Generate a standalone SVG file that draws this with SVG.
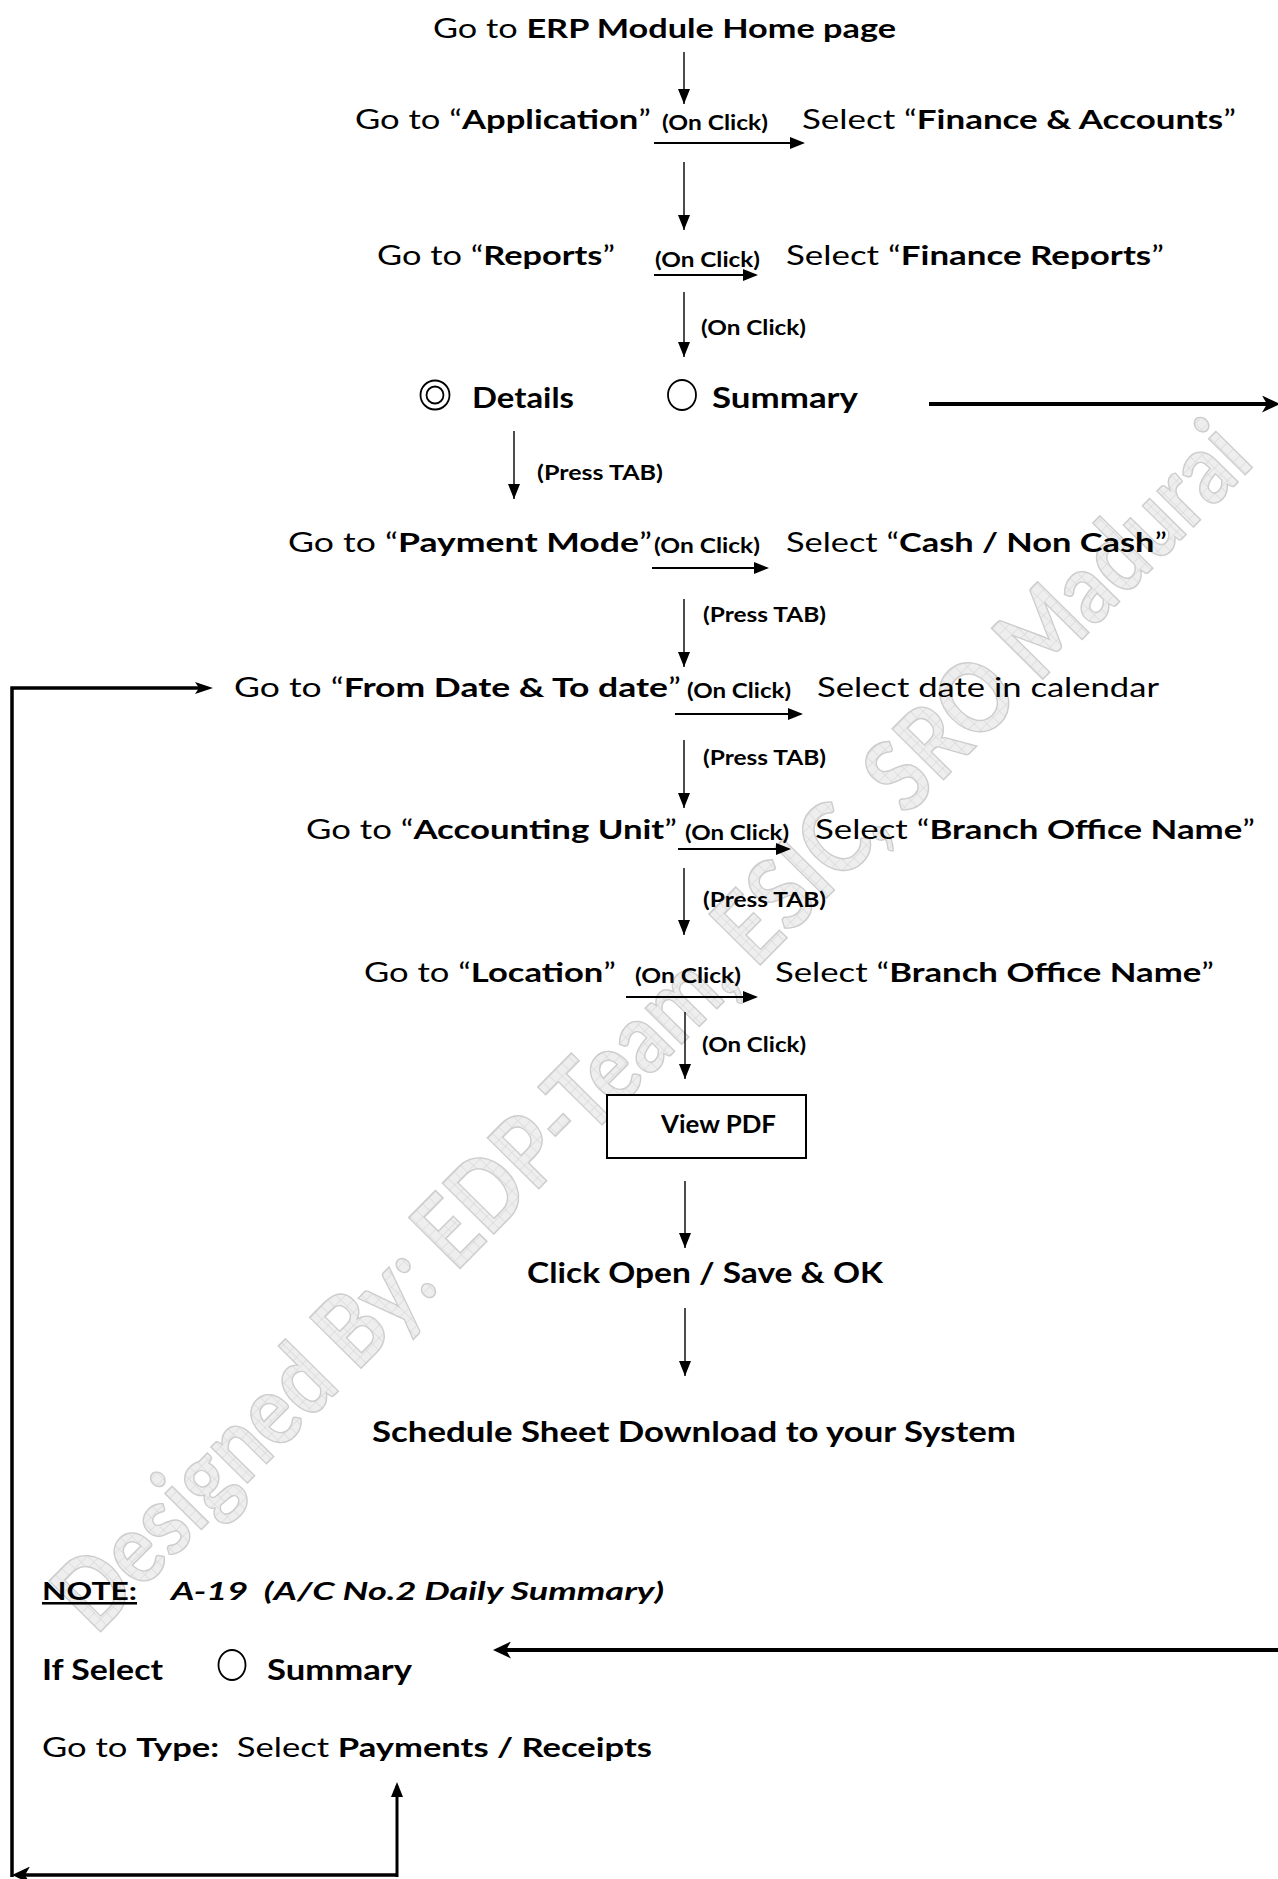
<svg xmlns="http://www.w3.org/2000/svg" width="1278" height="1879" viewBox="0 0 1278 1879">
<style>
  text{font-family:Lato,"Open Sans","Liberation Sans",sans-serif;fill:#000}
  .m{font-size:27px}
  .b{font-weight:bold}
  .s{font-size:20px;font-weight:bold}
  .big{font-size:29px;font-weight:bold}
  .thin{stroke:#000;stroke-width:1.4;fill:none}
  .mid{stroke:#000;stroke-width:2.2;fill:none}
  .thick{stroke:#000;stroke-width:4;fill:none}
  .loop{stroke:#000;stroke-width:3.5;fill:none}
  .radio{fill:none;stroke:#000;stroke-width:1.8}
  .wm{font-size:100px;font-weight:bold;fill:url(#grid);stroke:#cdcdcd;stroke-width:1.5}
</style>
<defs>
  <pattern id="grid" width="9" height="9" patternUnits="userSpaceOnUse">
    <rect width="9" height="9" fill="#eeeeee"/>
    <path d="M0,0H9M0,0V9" stroke="#d2d2d2" stroke-width="1"/>
  </pattern>
  <marker id="ah" markerUnits="userSpaceOnUse" markerWidth="15" markerHeight="12" refX="15" refY="6" orient="auto">
    <path d="M0,0L15,6L0,12z" fill="#000"/>
  </marker>
  <marker id="ahH" markerUnits="userSpaceOnUse" markerWidth="15" markerHeight="12" refX="13" refY="6" orient="auto">
    <path d="M0,0L15,6L0,12z" fill="#000"/>
  </marker>
  <marker id="ahM" markerUnits="userSpaceOnUse" markerWidth="15" markerHeight="12" refX="11" refY="6" orient="auto">
    <path d="M0,0L15,6L0,12z" fill="#000"/>
  </marker>
  <marker id="ahL" markerUnits="userSpaceOnUse" markerWidth="18" markerHeight="12" refX="8" refY="6" orient="auto">
    <path d="M0,0L18,6L0,12L4,6z" fill="#000"/>
  </marker>
  <marker id="ahS" markerUnits="userSpaceOnUse" markerWidth="18" markerHeight="17" refX="6" refY="8.5" orient="auto">
    <path d="M0,0L18,8.5L0,17L5,8.5z" fill="#000"/>
  </marker>
</defs>
<rect width="1278" height="1879" fill="#fff"/>

<g id="watermark" transform="translate(676,1050) rotate(-45.3)">
  <text class="wm" x="0" y="0" text-anchor="middle" textLength="1650" lengthAdjust="spacingAndGlyphs">Designed By: EDP-Team, ESIC, SRO Madurai</text>
</g>

<g id="connectors">
  <path class="thin" d="M684,52V104" marker-end="url(#ah)"/>
  <path class="thin" d="M684,162V230" marker-end="url(#ah)"/>
  <path class="thin" d="M684,292V357" marker-end="url(#ah)"/>
  <path class="thin" d="M514,431V499" marker-end="url(#ah)"/>
  <path class="thin" d="M684,599V667" marker-end="url(#ah)"/>
  <path class="thin" d="M684,740V808" marker-end="url(#ah)"/>
  <path class="thin" d="M684,868V935" marker-end="url(#ah)"/>
  <path class="thin" d="M685,1012V1079" marker-end="url(#ah)"/>
  <path class="thin" d="M685,1181V1248" marker-end="url(#ah)"/>
  <path class="thin" d="M685,1308V1376" marker-end="url(#ah)"/>

  <path class="mid" d="M654,143H803" marker-end="url(#ahH)"/>
  <path class="mid" d="M654,275H756" marker-end="url(#ahH)"/>
  <path class="mid" d="M652,568H767" marker-end="url(#ahH)"/>
  <path class="mid" d="M675,714H801" marker-end="url(#ahH)"/>
  <path class="mid" d="M678,849H789" marker-end="url(#ahH)"/>
  <path class="mid" d="M626,997H756" marker-end="url(#ahH)"/>

  <path class="thick" d="M929,404H1268" marker-end="url(#ahS)"/>
  <path class="thick" d="M1280,1650H505" marker-end="url(#ahS)"/>

  <path class="loop" d="M397,1875H24" marker-end="url(#ahS)"/>
  <path class="loop" d="M12,1877V688H203" marker-end="url(#ahL)"/>
  <path class="loop" style="stroke-width:3" d="M397,1877V1786" marker-end="url(#ahM)"/>
</g>

<g id="start">
  <text class="m" x="433" y="38" textLength="463" lengthAdjust="spacingAndGlyphs">Go to <tspan class="b">ERP Module Home page</tspan></text>
</g>

<g id="application">
  <text class="m" x="355" y="129" textLength="296" lengthAdjust="spacingAndGlyphs">Go to “<tspan class="b">Application</tspan>”</text>
  <text class="s" x="662" y="130" textLength="106" lengthAdjust="spacingAndGlyphs">(On Click)</text>
  <text class="m" x="802" y="129" textLength="434" lengthAdjust="spacingAndGlyphs">Select “<tspan class="b">Finance &amp; Accounts</tspan>”</text>
</g>

<g id="reports">
  <text class="m" x="377" y="265" textLength="238" lengthAdjust="spacingAndGlyphs">Go to “<tspan class="b">Reports</tspan>”</text>
  <text class="s" x="655" y="267" textLength="105" lengthAdjust="spacingAndGlyphs">(On Click)</text>
  <text class="m" x="786" y="265" textLength="378" lengthAdjust="spacingAndGlyphs">Select “<tspan class="b">Finance Reports</tspan>”</text>
</g>

<g id="label-onclick-1">
  <text class="s" x="701" y="335" textLength="105" lengthAdjust="spacingAndGlyphs">(On Click)</text>
</g>

<g id="details">
  <circle class="radio" cx="435" cy="395" r="14.5"/>
  <circle class="radio" cx="435" cy="395" r="8.5"/>
  <text class="big" x="472" y="408" textLength="102" lengthAdjust="spacingAndGlyphs">Details</text>
</g>

<g id="summary">
  <ellipse class="radio" cx="682" cy="395" rx="14" ry="15"/>
  <text class="big" x="712" y="408" textLength="146" lengthAdjust="spacingAndGlyphs">Summary</text>
</g>

<g id="label-presstab-1">
  <text class="s" x="537" y="480" textLength="126" lengthAdjust="spacingAndGlyphs">(Press TAB)</text>
</g>

<g id="payment-mode">
  <text class="m" x="288" y="552" textLength="364" lengthAdjust="spacingAndGlyphs">Go to “<tspan class="b">Payment Mode</tspan>”</text>
  <text class="s" x="654" y="553" textLength="106" lengthAdjust="spacingAndGlyphs">(On Click)</text>
  <text class="m" x="786" y="552" textLength="381" lengthAdjust="spacingAndGlyphs">Select “<tspan class="b">Cash / Non Cash</tspan>”</text>
</g>

<g id="label-presstab-2">
  <text class="s" x="703" y="622" textLength="123" lengthAdjust="spacingAndGlyphs">(Press TAB)</text>
</g>

<g id="from-date">
  <text class="m" x="234" y="697" textLength="447" lengthAdjust="spacingAndGlyphs">Go to “<tspan class="b">From Date &amp; To date</tspan>”</text>
  <text class="s" x="687" y="698" textLength="104" lengthAdjust="spacingAndGlyphs">(On Click)</text>
  <text class="m" x="817" y="697" textLength="342" lengthAdjust="spacingAndGlyphs">Select date in calendar</text>
</g>

<g id="label-presstab-3">
  <text class="s" x="703" y="765" textLength="123" lengthAdjust="spacingAndGlyphs">(Press TAB)</text>
</g>

<g id="accounting-unit">
  <text class="m" x="306" y="839" textLength="371" lengthAdjust="spacingAndGlyphs">Go to “<tspan class="b">Accounting Unit</tspan>”</text>
  <text class="s" x="685" y="840" textLength="104" lengthAdjust="spacingAndGlyphs">(On Click)</text>
  <text class="m" x="815" y="839" textLength="440" lengthAdjust="spacingAndGlyphs">Select “<tspan class="b">Branch Office Name</tspan>”</text>
</g>

<g id="label-presstab-4">
  <text class="s" x="703" y="907" textLength="123" lengthAdjust="spacingAndGlyphs">(Press TAB)</text>
</g>

<g id="location">
  <text class="m" x="364" y="982" textLength="252" lengthAdjust="spacingAndGlyphs">Go to “<tspan class="b">Location</tspan>”</text>
  <text class="s" x="635" y="983" textLength="106" lengthAdjust="spacingAndGlyphs">(On Click)</text>
  <text class="m" x="775" y="982" textLength="439" lengthAdjust="spacingAndGlyphs">Select “<tspan class="b">Branch Office Name</tspan>”</text>
</g>

<g id="label-onclick-2">
  <text class="s" x="702" y="1052" textLength="104" lengthAdjust="spacingAndGlyphs">(On Click)</text>
</g>

<g id="view-pdf">
  <rect x="607" y="1095" width="199" height="63" fill="#fff" stroke="#000" stroke-width="2"/>
  <text x="661" y="1133" font-size="24" font-weight="bold" textLength="115" lengthAdjust="spacingAndGlyphs">View PDF</text>
</g>

<g id="open-save">
  <text class="big" x="527" y="1283" textLength="356" lengthAdjust="spacingAndGlyphs">Click Open / Save &amp; OK</text>
</g>

<g id="download">
  <text x="372" y="1442" font-size="28" font-weight="bold" textLength="644" lengthAdjust="spacingAndGlyphs">Schedule Sheet Download to your System</text>
</g>

<g id="note">
  <text x="42" y="1600" font-size="25.5" font-weight="bold" text-decoration="underline" textLength="95" lengthAdjust="spacingAndGlyphs">NOTE:</text>
  <text x="171" y="1600" font-size="25.5" font-weight="bold" font-style="italic" style="white-space:pre" textLength="493" lengthAdjust="spacingAndGlyphs">A-19  (A/C No.2 Daily Summary)</text>
</g>

<g id="if-summary">
  <text x="42" y="1680" font-size="28" font-weight="bold" textLength="121" lengthAdjust="spacingAndGlyphs">If Select</text>
  <ellipse class="radio" cx="232" cy="1665" rx="13.5" ry="15"/>
  <text x="267" y="1680" font-size="28" font-weight="bold" textLength="145" lengthAdjust="spacingAndGlyphs">Summary</text>
</g>

<g id="type">
  <text x="42" y="1757" font-size="26" style="white-space:pre" textLength="610" lengthAdjust="spacingAndGlyphs">Go to <tspan class="b">Type:</tspan>  Select <tspan class="b">Payments / Receipts</tspan></text>
</g>
</svg>
